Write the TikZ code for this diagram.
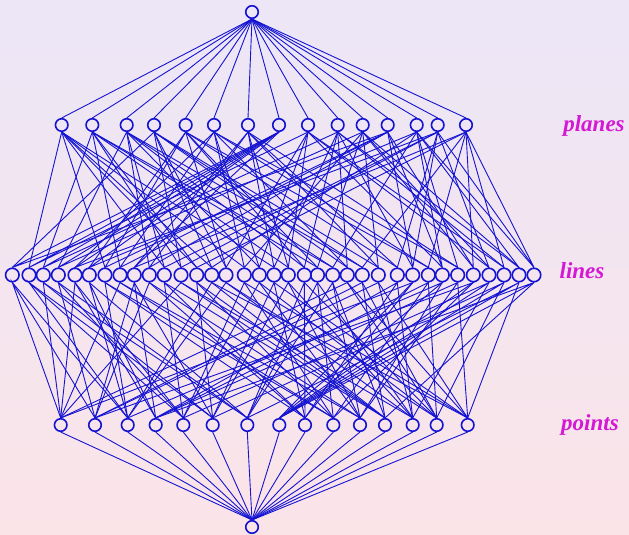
\documentclass[tikz,border=0pt]{standalone}
\usepackage{xcolor}
\usepackage{fontspec}
\setmainfont{Liberation Serif}
\definecolor{latblue}{HTML}{1414D2}
\definecolor{latmag}{HTML}{D418D4}
\definecolor{bgtop}{HTML}{ECE6F7}
\definecolor{bgbot}{HTML}{FBE4E8}

\begin{document}
\begin{tikzpicture}[x=1pt,y=-1pt,
  elt/.style={circle,draw=latblue,line width=1.6pt,inner sep=0pt,minimum size=12.5pt},
  lnelt/.style={elt,minimum size=13.5pt},
  edge/.style={latblue,line width=0.9pt},
  rank/.style={text=latmag,font=\fontsize{23}{26}\selectfont\bfseries\itshape}]
  \shade[top color=bgtop,bottom color=bgbot] (0,0) rectangle (629,535);
  % top and bottom of the lattice
  \node[elt] (top) at (252,12) {};
  \node[elt] (bot) at (252,527) {};
  % planes, lines, points
  \foreach \x [count=\i] in {61.7,92.3,126.7,154,185.7,214,248,279,308,337.7,362.7,387.7,416.7,437.7,466}
    \node[elt] (pl\i) at (\x,125) {};
  \foreach \x [count=\i] in {12.3,29,43.3,58.3,75,89.3,105,120,134.3,149.3,164.3,181,196.7,211.7,226,244.3,259.3,274,288.3,304.3,317.5,332.7,347.3,362.3,378.3,397.3,412.7,428.3,442.3,457.7,473.3,489,504,519,534}
    \node[lnelt] (ln\i) at (\x,275) {};
  \foreach \x [count=\i] in {60.7,95,127.7,155.7,183.3,212.7,247.3,279.3,305,333.3,360,385,412.7,436.7,467.7}
    \node[elt] (pt\i) at (\x,425) {};
  \foreach \i in {1,...,15} {
    \draw[edge] (top.south) -- (pl\i.north);
    \draw[edge] (pt\i.south) -- (bot.north);
  }
  % each line: its three points / its three planes
  \foreach \pa/\pb/\pc/\ua/\ub/\uc [count=\i] in {
    1/2/3/12/8/4, 3/5/6/9/8/1, 1/6/7/10/8/2, 2/5/7/11/8/3, 1/4/5/14/8/6,
    3/4/7/13/8/5, 3/9/10/12/5/1, 1/10/11/12/6/2, 2/4/6/15/8/7, 2/9/11/12/7/3,
    5/9/12/14/3/1, 1/12/13/14/4/2, 6/10/12/15/2/1, 3/12/15/13/4/1, 3/13/14/9/5/4,
    5/10/15/11/6/1, 5/11/14/9/6/3, 6/9/15/10/7/1, 6/11/13/9/7/2, 7/9/14/10/5/3,
    7/10/13/11/5/2, 7/11/12/13/3/2, 1/14/15/10/6/4, 2/12/14/15/4/3, 2/13/15/11/7/4,
    4/9/13/14/7/5, 1/8/9/14/12/10, 4/10/14/15/6/5, 3/8/11/13/12/9, 4/11/15/13/7/6,
    2/8/10/15/12/11, 5/8/13/14/11/9, 6/8/14/15/10/9, 7/8/15/13/11/10, 4/8/12/15/14/13} {
    \draw[edge] (pl\ua.south) -- (ln\i.north) -- (pl\ub.south);
    \draw[edge] (pl\uc.south) -- (ln\i.north);
    \draw[edge] (pt\pa.north) -- (ln\i.south) -- (pt\pb.north);
    \draw[edge] (pt\pc.north) -- (ln\i.south);
  }
  \node[rank] (lbpl) at (594,126) {planes};
  \node[rank] (lbln) at (582,271) {lines};
  \node[rank] (lbpt) at (590,425) {points};
\end{tikzpicture}
\end{document}
